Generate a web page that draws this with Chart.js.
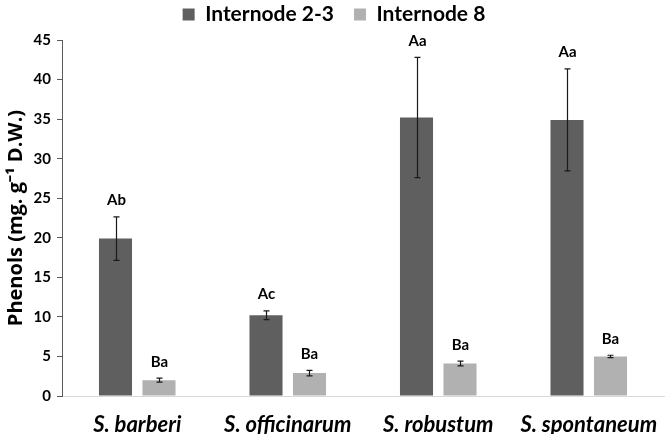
<!DOCTYPE html>
<html><head><meta charset="utf-8">
<script src="https://cdn.jsdelivr.net/npm/chart.js@4"></script>
<style>html,body{margin:0;padding:0;background:#fff}#wrap{width:665px;height:438px}</style>
</head><body><div id="wrap"><canvas id="c" width="665" height="438"></canvas></div>
<script>
const categories = ["S. barberi", "S. officinarum", "S. robustum", "S. spontaneum"];
const seriesNames = ["Internode 2-3", "Internode 8"];
const internode23 = [19.9, 10.2, 35.2, 34.9];
const internode23Err = [2.75, 0.55, 7.6, 6.45];
const internode23Letters = ["Ab", "Ac", "Aa", "Aa"];
const internode8 = [2.0, 2.9, 4.1, 5.0];
const internode8Err = [0.25, 0.35, 0.3, 0.15];
const internode8Letters = ["Ba", "Ba", "Ba", "Ba"];
const yTicks = [0, 5, 10, 15, 20, 25, 30, 35, 40, 45];

const FONT = "Lato, 'Open Sans', sans-serif";
const errs = [internode23Err, internode8Err];
const letters = [internode23Letters, internode8Letters];

const legendFix = {
  id: 'legendFix',
  afterInit(chart) {
    const lg = chart.legend;
    const f = lg.fit, d = lg.draw;
    lg.fit = function () { f.call(this); this.height = 40; };
    lg.draw = function (a) { const t = this.top; this.top = t - 16; d.call(this, a); this.top = t; };
  }
};

const annot = {
  id: 'annot',
  afterDatasetsDraw(chart) {
    const ctx = chart.ctx, ys = chart.scales.y;
    chart.data.datasets.forEach((ds, di) => {
      const meta = chart.getDatasetMeta(di);
      meta.data.forEach((bar, i) => {
        const v = ds.data[i], e = errs[di][i];
        const x = Math.round(bar.x) + 0.5;
        const yt = ys.getPixelForValue(v + e), yb = ys.getPixelForValue(v - e);
        ctx.save();
        ctx.strokeStyle = '#1a1a1a'; ctx.lineWidth = 1.2;
        ctx.beginPath();
        ctx.moveTo(x, yt); ctx.lineTo(x, yb);
        ctx.moveTo(x - 3, yt); ctx.lineTo(x + 3, yt);
        ctx.moveTo(x - 3, yb); ctx.lineTo(x + 3, yb);
        ctx.stroke();
        ctx.fillStyle = '#000';
        ctx.font = 'bold 15px ' + FONT;
        ctx.textAlign = 'center'; ctx.textBaseline = 'bottom';
        ctx.fillText(letters[di][i], x, yt - 9);
        ctx.restore();
      });
    });
  }
};

new Chart(document.getElementById('c'), {
  type: 'bar',
  data: {
    labels: categories,
    datasets: [
      { label: seriesNames[0], data: internode23, backgroundColor: '#5f5f5f' },
      { label: seriesNames[1], data: internode8, backgroundColor: '#b1b1b1' }
    ]
  },
  options: {
    responsive: false, animation: false,
    layout: { padding: { left: 4, right: 1, top: 0, bottom: 4 } },
    categoryPercentage: 0.578, barPercentage: 0.76,
    plugins: {
      legend: {
        position: 'top',
        labels: {
          boxWidth: 12, boxHeight: 12, padding: 20,
          color: '#000',
          font: { family: FONT, size: 21, weight: 'bold' }
        }
      },
      tooltip: { enabled: false }
    },
    scales: {
      x: {
        grid: { display: false, drawTicks: false },
        border: { color: '#d9d9d9', width: 1 },
        afterFit(s) { s.height = 38; s.paddingLeft = 0; s.paddingRight = 0; },
        ticks: { color: '#000', padding: 16, font: { family: FONT, size: 22, weight: 'bold', style: 'italic' } }
      },
      y: {
        min: 0, max: 45,
        afterBuildTicks(s) { s.ticks = yTicks.map(v => ({ value: v })); },
        afterFit(s) { s.width = 58; },
        grid: { drawOnChartArea: false, drawTicks: true, tickLength: 5, color: '#595959' },
        border: { color: '#595959', width: 1 },
        ticks: { color: '#000', padding: 6, font: { family: FONT, size: 15, weight: 'bold' } },
        title: { display: true, text: 'Phenols (mg. g\u207B\u00B9 D.W.)', color: '#000', padding: 0,
                 font: { family: "'Open Sans', sans-serif", size: 20, weight: 'bold' } }
      }
    }
  },
  plugins: [legendFix, annot]
});
</script></body></html>
